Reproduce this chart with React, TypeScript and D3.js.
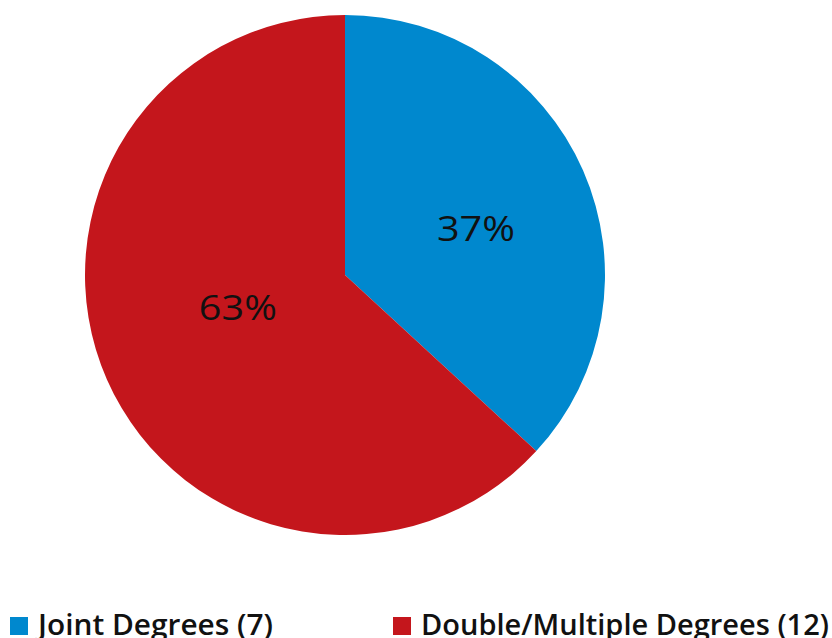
import React from 'react';
import * as d3 from 'd3';

const categories = ['Joint Degrees', 'Double/Multiple Degrees'];
const counts = [7, 12];
const colors = ['#0088CE', '#C4161C'];

const W = 832;
const H = 638;

// label placement tweaks (fraction of radius, vertical nudge)
const labelRadius = [0.55, 0.45];
const labelNudge = [10, -15];

const App: React.FC = () => {
  const cx = 345;
  const cy = 275;
  const r = 260;
  const total = d3.sum(counts);

  const pie = d3
    .pie<number>()
    .sort(null)
    .value((d) => d);
  const arcs = pie(counts);
  const arc = d3.arc<d3.PieArcDatum<number>>().innerRadius(0).outerRadius(r);

  const legendX = [10, 393];
  const legendTextW = [235, 408];

  return (
    <svg
      width={W}
      height={H}
      style={{ position: 'absolute', left: 0, top: 0 }}
      fontFamily="'Open Sans', 'DejaVu Sans', sans-serif"
    >
      <g transform={`translate(${cx},${cy})`}>
        {arcs.map((a, i) => (
          <path key={i} d={arc(a) || ''} fill={colors[i]} />
        ))}
        {arcs.map((a, i) => {
          const lr = r * labelRadius[i];
          const [x, y] = d3.arc<d3.PieArcDatum<number>>().innerRadius(lr).outerRadius(lr).centroid(a);
          return (
            <text
              key={'l' + i}
              x={x}
              y={y + labelNudge[i]}
              textAnchor="middle"
              dominantBaseline="central"
              fontSize={35}
              textLength={78}
              lengthAdjust="spacingAndGlyphs"
              fill="#111"
            >
              {Math.round((counts[i] / total) * 100)}%
            </text>
          );
        })}
      </g>
      {categories.map((c, i) => (
        <g key={c} transform={`translate(${legendX[i]},617)`}>
          <rect width={18} height={18} fill={colors[i]} />
          <text
            x={28}
            y={18}
            fontSize={29}
            fontWeight={600}
            fill="#111"
            textLength={legendTextW[i]}
            lengthAdjust="spacingAndGlyphs"
          >
            {c} ({counts[i]})
          </text>
        </g>
      ))}
    </svg>
  );
};

export default App;
